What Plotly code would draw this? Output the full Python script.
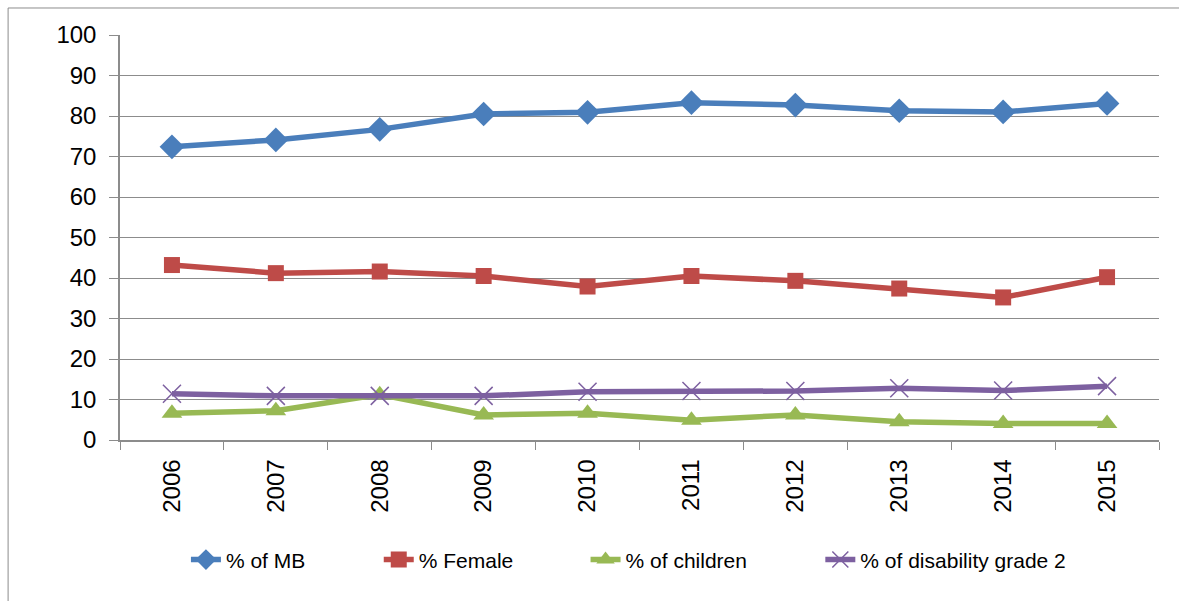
import plotly.graph_objects as go

years = ["2006", "2007", "2008", "2009", "2010", "2011", "2012", "2013", "2014", "2015"]
pct_mb = [72.4, 74.1, 76.7, 80.5, 80.9, 83.3, 82.7, 81.3, 81.0, 83.1]
pct_female = [43.2, 41.2, 41.6, 40.5, 37.9, 40.5, 39.3, 37.4, 35.2, 40.2]
pct_children = [6.6, 7.2, 11.2, 6.2, 6.6, 4.9, 6.2, 4.5, 4.1, 4.1]
pct_disability = [11.4, 10.9, 10.9, 10.9, 11.9, 12.1, 12.1, 12.8, 12.2, 13.3]

FONT = "Liberation Sans, Arial, sans-serif"

fig = go.Figure()
fig.add_trace(go.Scatter(
    x=years, y=pct_mb, name="% of MB", mode="lines+markers", legend="legend",
    line=dict(color="#4A7EBB", width=5.5),
    marker=dict(symbol="diamond", size=19, color="#4A7EBB"),
))
fig.add_trace(go.Scatter(
    x=years, y=pct_female, name="% Female", mode="lines+markers", legend="legend2",
    line=dict(color="#BE4B48", width=5.5),
    marker=dict(symbol="square", size=16, color="#BE4B48"),
))
fig.add_trace(go.Scatter(
    x=years, y=pct_children, name="% of children", mode="lines+markers", legend="legend3",
    line=dict(color="#98B954", width=5.5),
    marker=dict(symbol="triangle-up", size=18, color="#98B954"),
))
fig.add_trace(go.Scatter(
    x=years, y=pct_disability, name="% of disability grade 2", mode="lines+markers",
    legend="legend4",
    line=dict(color="#7D60A0", width=5.5),
    marker=dict(symbol="x-thin-open", size=18, color="#7D60A0",
                line=dict(color="#7D60A0", width=1.5)),
))


def legend_at(text_left):
    # legend box placed so that the entry text starts at text_left (px)
    return dict(
        orientation="h", x=(text_left - 41 - 120) / 1040, xanchor="left",
        y=-0.296, yanchor="middle",
        font=dict(family=FONT, size=21, color="black"),
        bgcolor="rgba(0,0,0,0)",
    )


fig.update_layout(
    width=1179, height=601,
    margin=dict(l=120, r=20, t=35, b=161),
    paper_bgcolor="white", plot_bgcolor="white",
    font=dict(family=FONT, size=24, color="black"),
    showlegend=True,
    legend=legend_at(227),
    legend2=legend_at(420),
    legend3=legend_at(627),
    legend4=legend_at(862),
    xaxis=dict(
        type="category", range=[-0.5, 9.5], tickangle=-90, tickson="boundaries",
        ticks="outside", ticklen=8, tickcolor="#8c8c8c",
        showline=True, linecolor="#8c8c8c", linewidth=1.5,
        showgrid=False, zeroline=False, ticklabelstandoff=8,
        tickfont=dict(family=FONT, size=24),
    ),
    yaxis=dict(
        range=[0, 100], tickvals=list(range(0, 101, 10)),
        ticks="outside", ticklen=9, tickcolor="#8c8c8c",
        showline=True, linecolor="#8c8c8c", linewidth=1.5,
        showgrid=True, gridcolor="#8c8c8c", gridwidth=1.2,
        zeroline=False, ticklabelstandoff=8,
        tickfont=dict(family=FONT, size=24),
    ),
    shapes=[dict(
        type="rect", xref="paper", yref="paper",
        x0=-0.1077, x1=1.03, y0=-0.45, y1=1.0667,
        line=dict(color="#8c8c8c", width=1), layer="below",
    )],
)

fig.write_html("out.html")
